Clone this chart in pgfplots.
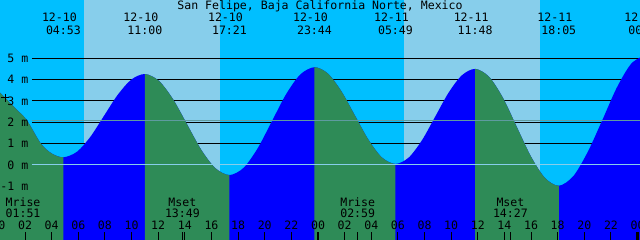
\documentclass[border=0pt]{standalone}
\usepackage{fontspec}
\usepackage{pgfplots}
\usepackage{pgfplotstable}
\pgfplotsset{compat=1.18}
\usepgfplotslibrary{fillbetween}
\newfontfamily\monof{DejaVu Sans Mono}
\newcommand\lbl{\monof\fontsize{11.6}{13}\selectfont}
\definecolor{nightbg}{RGB}{0,191,255}
\definecolor{daybg}{RGB}{135,206,235}
\definecolor{risecol}{RGB}{0,0,255}
\definecolor{fallcol}{RGB}{46,139,87}
\definecolor{datumcol}{RGB}{135,206,235}
\definecolor{mslcol}{RGB}{95,155,160}

\pgfplotstableread{
h m
-0.6 3.72
0.12 3.38
1.22 2.68
2.125 2.10
3.18 1.01
4.0 0.54
4.883 0.36
5.903 0.62
6.922 1.33
7.942 2.31
8.961 3.28
9.981 3.99
11.0 4.25
12.058 3.93
13.117 3.07
14.175 1.89
15.233 0.71
16.292 -0.15
17.35 -0.47
18.414 -0.13
19.478 0.79
20.542 2.05
21.606 3.31
22.669 4.23
23.733 4.57
24.747 4.27
25.761 3.44
26.775 2.31
27.789 1.18
28.803 0.35
29.817 0.05
30.814 0.35
31.811 1.16
32.809 2.27
33.806 3.38
34.803 4.19
35.8 4.49
36.847 4.12
37.894 3.13
38.942 1.76
39.989 0.40
41.036 -0.60
42.083 -0.97
43.173 -0.52
44.262 0.62
45.352 2.10
46.441 3.62
47.531 4.74
48.62 5.15
}\tidedata

\begin{document}
\begin{tikzpicture}
\begin{axis}[
  scale only axis, width=640bp, height=240bp,
  xmin=0.12, xmax=48.18, ymin=-3.505, ymax=7.71,
  axis line style={draw=none},
  ytick=\empty,
  xtick={2,4,...,22,26,28,...,46,13.817,26.983,38.45},
  xticklabels={},
  extra x ticks={24,48}, extra x tick labels={},
  extra x tick style={tick style={black, line width=2.8bp}},
  xtick pos=left, tick align=inside, major tick length=8bp,
  tick style={black, line width=1bp},
  axis on top,
  clip=true,
  axis background/.style={fill=nightbg},
  fill between/on layer=main,
]
% day bands
\addplot[fill=daybg, draw=none] coordinates {(6.43,-4) (6.43,8) (16.64,8) (16.64,-4)} -- cycle;
\addplot[fill=daybg, draw=none] coordinates {(30.46,-4) (30.46,8) (40.67,8) (40.67,-4)} -- cycle;
% level lines
\addplot[black, line width=0.9bp] coordinates {(2.52,5) (50,5)};
\addplot[black, line width=0.9bp] coordinates {(2.52,4) (50,4)};
\addplot[black, line width=0.9bp] coordinates {(2.52,3) (50,3)};
\addplot[black, line width=0.9bp] coordinates {(2.52,2) (50,2)};
\addplot[black, line width=0.9bp] coordinates {(2.52,1) (50,1)};
% tide
\addplot[name path=tide, draw=none, smooth] table {\tidedata};
\addplot[name path=bot, draw=none] coordinates {(-2,-4) (50,-4)};
\addplot[fill=risecol, draw=none] fill between[of=tide and bot];
\addplot[fill=fallcol, draw=none] fill between[of=tide and bot, soft clip={domain=-2:4.883}];
\addplot[fill=fallcol, draw=none] fill between[of=tide and bot, soft clip={domain=11.0:17.35}];
\addplot[fill=fallcol, draw=none] fill between[of=tide and bot, soft clip={domain=23.733:29.817}];
\addplot[fill=fallcol, draw=none] fill between[of=tide and bot, soft clip={domain=35.8:42.083}];
% datum and mean lines
\addplot[datumcol, line width=1bp] coordinates {(2.52,0) (50,0)};
\addplot[mslcol, line width=1bp] coordinates {(2.52,2.08) (50,2.08)};
% current marker
\addplot[only marks, mark=+, mark size=4bp, black, line width=0.8bp] coordinates {(0.533,3.15)};

% title
\node[anchor=base, font=\lbl, inner sep=0pt] at (axis cs:24.15,7.243) {San Felipe, Baja California Norte, Mexico};
% tide extreme labels
\foreach \t/\d/\s in {4.883/12-10/04:53, 11.0/12-10/11:00, 17.35/12-10/17:21, 23.733/12-10/23:44,
   29.817/12-11/05:49, 35.8/12-11/11:48, 42.083/12-11/18:05, 48.62/12-12/00:37}{
  \edef\temp{\noexpand\node[anchor=base, font=\noexpand\lbl, inner sep=0pt] at (axis cs:\t-0.3,6.70) {\d};
    \noexpand\node[anchor=base, font=\noexpand\lbl, inner sep=0pt] at (axis cs:\t,6.12) {\s};}
  \temp
}
% level labels
\foreach \v/\s in {5/5 m, 4/4 m, 3/3 m, 2/2 m, 1/1 m, 0/0 m, -1/-1 m}{
  \edef\temp{\noexpand\node[anchor=east, font=\noexpand\lbl, inner sep=0pt] at (axis cs:2.26,\v) {\s};}
  \temp
}
% moon labels
\foreach \t/\a/\s in {1.85/Mrise/01:51, 13.817/Mset/13:49, 26.983/Mrise/02:59, 38.45/Mset/14:27}{
  \edef\temp{\noexpand\node[anchor=base, font=\noexpand\lbl, inner sep=0pt] at (axis cs:\t,-1.95) {\a};
    \noexpand\node[anchor=base, font=\noexpand\lbl, inner sep=0pt] at (axis cs:\t,-2.44) {\s};}
  \temp
}
% hour labels
\foreach \t/\s in {0/00,2/02,4/04,6/06,8/08,10/10,12/12,14/14,16/16,18/18,20/20,22/22,
   24/00,26/02,28/04,30/06,32/08,34/10,36/12,38/14,40/16,42/18,44/20,46/22,48/00}{
  \edef\temp{\noexpand\node[anchor=base, font=\noexpand\lbl, inner sep=0pt] at (axis cs:\t,-3.0) {\s};}
  \temp
}
\end{axis}
\pgfresetboundingbox
\path (current axis.south west) rectangle (current axis.north east);
\end{tikzpicture}
\end{document}
